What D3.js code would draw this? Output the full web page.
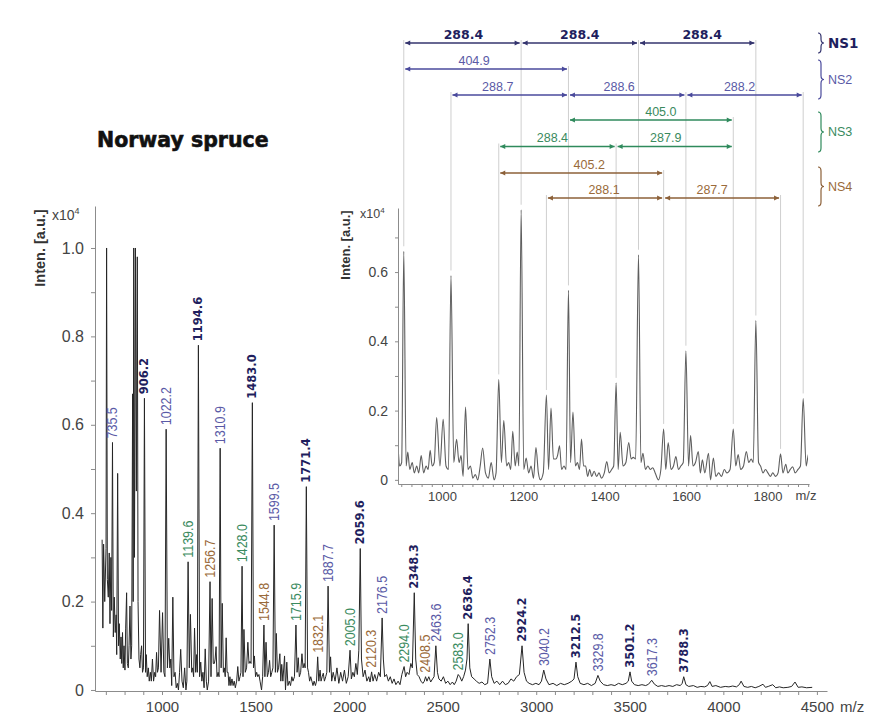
<!DOCTYPE html>
<html>
<head>
<meta charset="utf-8">
<script src="https://cdn.jsdelivr.net/npm/d3@7"></script>
<style>
  body { margin: 0; background: #ffffff; }
  svg { display: block; }
</style>
</head>
<body>
<svg id="chart" width="870" height="720"></svg>
<script>
// ---- Labelled oligomer series (m/z, intensity in units of 10^4) ----
const ns1Mz  = [906.2, 1194.6, 1483.0, 1771.4, 2059.6, 2348.3, 2636.4, 2924.2, 3212.5, 3501.2, 3788.3];
const ns1Int = [0.66, 0.78, 0.65, 0.46, 0.32, 0.22, 0.15, 0.10, 0.063, 0.041, 0.03];
const ns2Mz  = [735.5, 1022.2, 1310.9, 1599.5, 1887.7, 2176.5, 2463.6, 2752.3, 3040.2, 3329.8, 3617.3];
const ns2Int = [0.56, 0.59, 0.547, 0.373, 0.235, 0.163, 0.10, 0.07, 0.045, 0.033, 0.022];
const ns3Mz  = [1139.6, 1428.0, 1715.9, 2005.0, 2294.0, 2583.0];
const ns3Int = [0.29, 0.28, 0.147, 0.09, 0.053, 0.035];
const ns4Mz  = [1256.7, 1544.8, 1832.1, 2120.3, 2408.5];
const ns4Int = [0.245, 0.147, 0.075, 0.041, 0.03];

// ---- Unlabelled signal between the labelled peaks [m/z, intensity] ----
const background = [
  [680,0.34],[684,0.14],[688,0.33],[694,0.20],[701,0.32],[704,1.0],[708,0.25],[713,0.21],[718,0.31],[722,0.15],
  [727,0.30],[731,0.18],[740,0.12],[745,0.21],[750,0.13],[755,0.17],[758,0.08],[763,0.49],[768,0.10],[772,0.15],
  [777,0.07],[781,0.12],[785,0.06],[789,0.13],[793,0.05],[797,0.10],[802,0.045],[806,0.14],[811,0.22],[815,0.06],
  [820,0.05],[824,0.10],[829,0.19],[834,0.07],[838,0.10],[843,0.67],[846,0.20],[849,1.0],[853,0.30],[858,1.0],
  [863,0.45],[868,0.98],[872,0.20],[877,0.07],[882,0.05],[886,0.08],[891,0.10],[896,0.04],[901,0.05],
  [912,0.04],[916,0.08],[921,0.03],[927,0.05],[932,0.02],[938,0.04],[943,0.02],[949,0.07],[955,0.02],[961,0.04],
  [966,0.03],[971,0.085],[976,0.04],[981,0.05],[987,0.18],[995,0.04],[1003,0.175],[1010,0.04],[1016,0.03],
  [1029,0.05],[1036,0.117],[1042,0.05],[1047,0.07],[1052,0.01],[1058,0.21],[1064,0.03],[1070,0.04],[1076,0.005],
  [1082,0.015],[1088,0.0],[1094,0.04],[1100,0.092],[1107,0.02],[1114,0.005],[1121,0.05],[1128,0.0],[1133,0.02],
  [1146,0.05],[1152,0.171],[1159,0.04],[1164,0.05],[1169,0.03],[1174,0.14],[1180,0.04],[1185,0.08],[1189,0.04],
  [1201,0.03],[1207,0.063],[1213,0.02],[1219,0.04],[1225,0.005],[1231,0.093],[1237,0.02],[1242,0.0],[1249,0.02],
  [1262,0.03],[1268,0.207],[1274,0.06],[1280,0.06],[1284,0.07],[1289,0.098],[1294,0.03],[1300,0.04],[1305,0.03],
  [1316,0.05],[1322,0.196],[1328,0.04],[1333,0.05],[1338,0.03],[1343,0.118],[1348,0.04],[1353,0.04],[1358,0.01],
  [1363,0.03],[1368,0.01],[1374,0.025],[1380,0.01],[1386,0.02],[1392,0.005],[1399,0.02],[1405,0.053],[1411,0.02],
  [1417,0.03],[1422,0.04],[1433,0.03],[1438,0.137],[1445,0.04],[1452,0.05],[1459,0.108],[1465,0.06],[1470,0.065],
  [1476,0.06],[1489,0.05],[1494,0.077],[1500,0.03],[1506,0.04],[1512,0.03],[1518,0.035],[1524,0.02],[1532,0.0],
  [1538,0.03],[1550,0.03],[1556,0.108],[1563,0.03],[1569,0.04],[1575,0.067],[1581,0.03],[1587,0.04],[1593,0.05],
  [1606,0.04],[1611,0.128],[1617,0.04],[1623,0.05],[1630,0.082],[1635,0.02],[1640,0.058],[1646,0.02],[1655,0.077],
  [1660,0.0],[1667,0.063],[1673,0.01],[1680,0.02],[1687,0.01],[1694,0.03],[1700,0.02],[1708,0.03],[1722,0.04],
  [1728,0.073],[1734,0.03],[1741,0.04],[1748,0.082],[1754,0.05],[1760,0.06],[1765,0.05],[1778,0.05],[1783,0.04],
  [1789,0.02],[1795,0.03],[1801,0.02],[1807,0.01],[1813,0.02],[1820,0.01],[1826,0.02],[1838,0.02],[1845,0.045],
  [1850,0.02],[1856,0.03],[1862,0.038],[1868,0.02],[1875,0.03],[1881,0.04],
  [1895,0.04],[1901,0.075],[1907,0.02],[1915,0.04],[1925,0.02],[1935,0.05],[1945,0.015],[1955,0.04],[1965,0.02],
  [1975,0.045],[1985,0.015],[1995,0.03],[2012,0.025],[2020,0.04],[2028,0.03],[2036,0.06],[2044,0.035],[2052,0.09],
  [2066,0.07],[2075,0.03],[2085,0.045],[2095,0.02],[2105,0.03],[2112,0.018],[2128,0.02],[2137,0.035],[2147,0.02],
  [2158,0.04],[2167,0.03],[2183,0.07],[2190,0.03],[2200,0.035],[2210,0.02],[2220,0.03],[2230,0.015],[2240,0.025],
  [2250,0.012],[2262,0.02],[2272,0.012],[2282,0.035],[2302,0.03],[2310,0.04],[2320,0.035],[2330,0.06],[2338,0.05],
  [2356,0.07],[2364,0.035],[2374,0.03],[2384,0.02],[2394,0.015],[2402,0.02],[2416,0.02],[2426,0.03],[2436,0.018],
  [2446,0.025],[2454,0.03],[2472,0.04],[2480,0.025],[2492,0.02],[2504,0.03],[2516,0.015],[2528,0.02],[2540,0.012],
  [2552,0.018],[2562,0.012],[2572,0.02],[2592,0.03],[2602,0.02],[2612,0.03],[2622,0.045],[2630,0.07],[2645,0.05],
  [2655,0.03],[2668,0.025],[2680,0.02],[2695,0.015],[2710,0.018],[2725,0.012],[2740,0.015],[2762,0.03],[2775,0.015],
  [2790,0.02],[2805,0.012],[2820,0.02],[2835,0.012],[2850,0.015],[2865,0.025],[2880,0.02],[2895,0.03],[2910,0.035],
  [2935,0.04],[2948,0.02],[2962,0.015],[2980,0.012],[2998,0.015],[3015,0.012],[3028,0.02],[3052,0.025],[3068,0.012],
  [3090,0.015],[3110,0.01],[3130,0.015],[3150,0.012],[3170,0.015],[3190,0.02],[3202,0.025],[3222,0.03],[3235,0.015],
  [3255,0.012],[3275,0.015],[3295,0.01],[3315,0.015],[3342,0.02],[3360,0.012],[3380,0.01],[3400,0.012],[3420,0.01],
  [3440,0.015],[3460,0.012],[3480,0.015],[3492,0.02],[3510,0.02],[3525,0.012],[3545,0.01],[3565,0.012],[3585,0.01],
  [3600,0.013],[3632,0.013],[3650,0.008],[3670,0.01],[3690,0.008],[3710,0.01],[3730,0.008],[3750,0.012],[3770,0.01],
  [3780,0.015],[3800,0.012],[3815,0.008],[3840,0.01],[3860,0.006],[3880,0.008],[3900,0.007],[3915,0.01],[3928,0.019],
  [3940,0.008],[3960,0.01],[3985,0.006],[4010,0.008],[4030,0.007],[4050,0.009],[4070,0.007],[4085,0.012],[4095,0.02],
  [4110,0.008],[4130,0.006],[4150,0.008],[4170,0.005],[4190,0.008],[4212,0.013],[4225,0.006],[4240,0.008],[4264,0.012],
  [4280,0.005],[4300,0.007],[4320,0.005],[4345,0.006],[4365,0.008],[4383,0.018],[4400,0.006],[4420,0.007],[4445,0.005],
  [4475,0.006]
];

// ---- Mass differences between series members (one array set per row) ----
const rowGroup = ["NS1", "NS2", "NS2", "NS3", "NS3", "NS4", "NS4"];
const rowFrom  = [[906.2, 1194.6, 1483.0], [906.2], [1022.2, 1310.9, 1599.5], [1310.9], [1139.6, 1428.0], [1139.6], [1256.7, 1544.8]];
const rowTo    = [[1194.6, 1483.0, 1771.4], [1310.9], [1310.9, 1599.5, 1887.7], [1715.9], [1428.0, 1715.9], [1544.8], [1544.8, 1832.1]];
const rowText  = [["288.4", "288.4", "288.4"], ["404.9"], ["288.7", "288.6", "288.2"], ["405.0"], ["288.4", "287.9"], ["405.2"], ["288.1", "287.7"]];

// ---- Axis ticks ----
const mainXTicks = d3.range(700, 4501, 100);
const mainXLabels = [1000, 1500, 2000, 2500, 3000, 3500, 4000, 4500];
const mainYTicks = d3.range(0, 11).map(i => i / 10);
const insetXTicks = d3.range(900, 1901, 25);
const insetXLabels = [1000, 1200, 1400, 1600, 1800];
const insetYTicks = d3.range(0, 8).map(i => i / 10);

// ---- Layout & style ----
const SANS = "'Liberation Sans', Arial, Helvetica, sans-serif";
const WIDE = "'DejaVu Sans', Verdana, sans-serif";
const groupColor = { NS1: "#1f1f5e", NS2: "#5a5aa6", NS3: "#3a8a5e", NS4: "#9a6a3a" };
const arrowColor = { NS1: "#34346e", NS2: "#4a4a9c", NS3: "#2f8a5c", NS4: "#8c6038" };
const rowY = [43, 69, 95, 120, 146.5, 173, 198];
const rowNudge = [[1, 0, 5], [-12], [-12, -8, -5], [10], [-5, -9], [8], [-1, -10]];
const braceSpans = { NS1: [33, 53], NS2: [60, 99], NS3: [112, 152], NS4: [167, 206] };

const svg = d3.select("#chart");
svg.append("rect").attr("width", 870).attr("height", 720).attr("fill", "#ffffff");

// combined spectrum = background + labelled peaks
const peaks = [].concat(
  ns1Mz.map((m, i) => ({ mz: m, v: ns1Int[i], g: "NS1" })),
  ns2Mz.map((m, i) => ({ mz: m, v: ns2Int[i], g: "NS2" })),
  ns3Mz.map((m, i) => ({ mz: m, v: ns3Int[i], g: "NS3" })),
  ns4Mz.map((m, i) => ({ mz: m, v: ns4Int[i], g: "NS4" }))
);
const spectrum = background.concat(peaks.map(p => [p.mz, p.v])).sort((a, b) => a[0] - b[0]);
const peakValue = new Map(peaks.map(p => [p.mz, p.v]));

// ================= MAIN SPECTRUM =================
const x = d3.scaleLinear().domain([642, 4554]).range([95, 827]);
const y = d3.scaleLinear().domain([-0.0023, 1.095]).range([691, 206]);

const main = svg.append("g");

const xAxis = d3.axisBottom(x).tickValues(mainXTicks).tickSize(4).tickSizeOuter(0).tickPadding(6)
  .tickFormat(d => mainXLabels.includes(d) ? String(d) : "");
const gx = main.append("g").attr("transform", "translate(0,691)").call(xAxis);
gx.select(".domain").attr("stroke", "#8c8c8c");
gx.selectAll(".tick line").attr("stroke", "#8c8c8c");
gx.selectAll("text").attr("font-family", SANS).attr("font-size", 15).attr("fill", "#444");

const yAxis = d3.axisLeft(y).tickValues(mainYTicks).tickSize(4).tickSizeOuter(0).tickPadding(7)
  .tickFormat((d, i) => i % 2 === 0 ? (d === 0 ? "0" : d3.format(".1f")(d)) : "");
const gy = main.append("g").attr("transform", "translate(95,0)").call(yAxis);
gy.select(".domain").attr("stroke", "#8c8c8c");
gy.selectAll(".tick line").attr("stroke", "#8c8c8c");
gy.selectAll("text").attr("font-family", SANS).attr("font-size", 16).attr("fill", "#444");

main.append("text").attr("x", 840).attr("y", 712).attr("font-family", SANS).attr("font-size", 15)
  .attr("fill", "#444").text("m/z");
const mx = main.append("text").attr("x", 52).attr("y", 220).attr("font-family", SANS)
  .attr("font-size", 14).attr("fill", "#444");
mx.append("tspan").text("x10");
mx.append("tspan").attr("dy", -6).attr("font-size", 9).text("4");
main.append("text").attr("transform", "translate(40,248) rotate(-90)")
  .attr("text-anchor", "middle").attr("dominant-baseline", "central")
  .attr("font-family", SANS).attr("font-weight", "bold").attr("font-size", 14.5)
  .attr("fill", "#333").text("Inten. [a.u.]");

main.append("path").datum(spectrum)
  .attr("fill", "none").attr("stroke", "#262626").attr("stroke-width", 1)
  .attr("stroke-linejoin", "round")
  .attr("d", d3.line().x(d => x(d[0])).y(d => y(d[1])));

// peak annotations, rotated above each labelled peak
peaks.forEach(p => {
  const bold = p.g === "NS1";
  main.append("text")
    .attr("transform", `translate(${x(p.mz)},${y(p.v) - 4}) rotate(-90)` + (bold ? "" : " scale(0.86,1)"))
    .attr("text-anchor", "start").attr("dominant-baseline", "central")
    .attr("font-family", bold ? WIDE : SANS)
    .attr("font-weight", bold ? "bold" : "normal")
    .attr("font-size", bold ? 11.5 : 14.5)
    .attr("fill", groupColor[p.g])
    .text(p.mz.toFixed(1));
});

svg.append("text").attr("x", 97).attr("y", 147).attr("font-family", WIDE).attr("font-weight", "bold")
  .attr("font-size", 20.5).attr("fill", "#111").attr("stroke", "#111").attr("stroke-width", 0.6)
  .text("Norway spruce");

// ================= INSET (900–1900 m/z) =================
const xi = d3.scaleLinear().domain([892, 1902]).range([398, 809]);
const yi = d3.scaleLinear().domain([-0.012, 0.785]).range([484, 208]);
const inset = svg.append("g");

// guide lines from the difference rows down to the peaks
const topRow = new Map();
rowFrom.forEach((arr, r) => {
  arr.concat(rowTo[r]).forEach(m => { if (!topRow.has(m) || topRow.get(m) > r) topRow.set(m, r); });
});
topRow.forEach((r, m) => {
  inset.append("line")
    .attr("x1", xi(m)).attr("x2", xi(m))
    .attr("y1", rowY[r] - 3).attr("y2", yi(peakValue.get(m)) - 5)
    .attr("stroke", "#cfcfcf").attr("stroke-width", 1);
});

const gxi = inset.append("g").attr("transform", "translate(0,484)")
  .call(d3.axisBottom(xi).tickValues(insetXTicks).tickSize(3).tickSizeOuter(0).tickPadding(5)
    .tickFormat(d => insetXLabels.includes(d) ? String(d) : ""));
gxi.select(".domain").attr("stroke", "#8c8c8c");
gxi.selectAll(".tick line").attr("stroke", "#8c8c8c");
gxi.selectAll("text").attr("font-family", SANS).attr("font-size", 13).attr("fill", "#444");

const gyi = inset.append("g").attr("transform", "translate(398,0)")
  .call(d3.axisLeft(yi).tickValues(insetYTicks).tickSize(3).tickSizeOuter(0).tickPadding(7)
    .tickFormat((d, i) => i % 2 === 0 ? (d === 0 ? "0" : d3.format(".1f")(d)) : ""));
gyi.select(".domain").attr("stroke", "#8c8c8c");
gyi.selectAll(".tick line").attr("stroke", "#8c8c8c");
gyi.selectAll("text").attr("font-family", SANS).attr("font-size", 14).attr("fill", "#444");

inset.append("text").attr("x", 806).attr("y", 500).attr("text-anchor", "middle")
  .attr("font-family", SANS).attr("font-size", 13).attr("fill", "#444").text("m/z");
const ix = inset.append("text").attr("x", 360).attr("y", 218).attr("font-family", SANS)
  .attr("font-size", 12.5).attr("fill", "#444");
ix.append("tspan").text("x10");
ix.append("tspan").attr("dy", -5).attr("font-size", 8).text("4");
inset.append("text").attr("transform", "translate(345,245) rotate(-90)")
  .attr("text-anchor", "middle").attr("dominant-baseline", "central")
  .attr("font-family", SANS).attr("font-weight", "bold").attr("font-size", 13)
  .attr("fill", "#333").text("Inten. [a.u.]");

svg.append("clipPath").attr("id", "insetClip").append("rect")
  .attr("x", 399).attr("y", 200).attr("width", 409).attr("height", 290);
inset.append("path").datum(spectrum)
  .attr("clip-path", "url(#insetClip)")
  .attr("fill", "none").attr("stroke", "#5e5e5e").attr("stroke-width", 1.1)
  .attr("stroke-linejoin", "round")
  .attr("d", d3.line().curve(d3.curveMonotoneX).x(d => xi(d[0])).y(d => yi(d[1])));

// double-headed difference arrows
function head(xp, yp, dir) {
  const L = 5, W = 2.4;
  return `M${xp},${yp} L${xp - dir * L},${yp - W} L${xp - dir * L},${yp + W} Z`;
}
rowFrom.forEach((arr, r) => {
  const g = rowGroup[r];
  const c = arrowColor[g];
  const yy = rowY[r];
  arr.forEach((m0, k) => {
    const x0 = xi(m0) + 1.5, x1 = xi(rowTo[r][k]) - 1.5;
    inset.append("line").attr("x1", x0).attr("x2", x1).attr("y1", yy).attr("y2", yy)
      .attr("stroke", c).attr("stroke-width", 1.3);
    inset.append("path").attr("d", head(x0, yy, -1)).attr("fill", c);
    inset.append("path").attr("d", head(x1, yy, 1)).attr("fill", c);
    const bold = g === "NS1";
    inset.append("text").attr("x", (x0 + x1) / 2 + rowNudge[r][k]).attr("y", yy - 4.5)
      .attr("text-anchor", "middle")
      .attr("font-family", bold ? WIDE : SANS)
      .attr("font-weight", bold ? "bold" : "normal")
      .attr("font-size", bold ? 12.5 : 12.5)
      .attr("fill", groupColor[g])
      .text(rowText[r][k]);
  });
});

// braces naming each series
function brace(xb, y0, y1) {
  const w = 6, r = 4, m = (y0 + y1) / 2, h = xb + w / 2;
  return `M${xb},${y0} Q${h},${y0} ${h},${y0 + r} L${h},${m - r} Q${h},${m} ${xb + w},${m}` +
         ` Q${h},${m} ${h},${m + r} L${h},${y1 - r} Q${h},${y1} ${xb},${y1}`;
}
Object.keys(braceSpans).forEach(g => {
  const [b0, b1] = braceSpans[g];
  inset.append("path").attr("d", brace(818, b0, b1)).attr("fill", "none")
    .attr("stroke", arrowColor[g]).attr("stroke-width", 1.2);
  const bold = g === "NS1";
  inset.append("text").attr("x", 828).attr("y", (b0 + b1) / 2).attr("dominant-baseline", "central")
    .attr("font-family", bold ? WIDE : SANS).attr("font-weight", bold ? "bold" : "normal")
    .attr("font-size", bold ? 13.5 : 12.5).attr("fill", groupColor[g]).text(g);
});
</script>
</body>
</html>
